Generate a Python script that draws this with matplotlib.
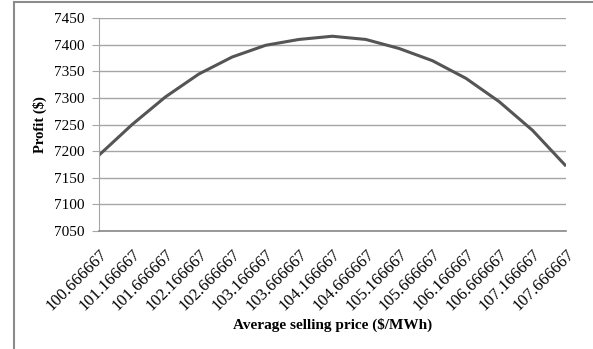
import matplotlib.pyplot as plt
from matplotlib.lines import Line2D

prices = ['100.666667', '101.166667', '101.666667', '102.166667', '102.666667',
          '103.166667', '103.666667', '104.166667', '104.666667', '105.166667',
          '105.666667', '106.166667', '106.666667', '107.166667', '107.666667']
profit = [7192, 7250, 7302, 7345, 7377, 7399, 7410, 7416, 7410, 7393,
          7370, 7337, 7293, 7239, 7172]
yticks = [7050, 7100, 7150, 7200, 7250, 7300, 7350, 7400, 7450]

plt.rcParams['font.family'] = ['Liberation Serif', 'DejaVu Serif']

fig = plt.figure(figsize=(5.93, 3.49), dpi=100)
ax = fig.add_axes([0.1664, 0.338, 0.7881, 0.610])

x = list(range(len(prices)))
ax.plot(x, profit, color='#555555', lw=2.2, solid_capstyle='butt')
ax.set_xlim(0, len(prices) - 1)
ax.set_ylim(7050, 7450)
ax.set_yticks(yticks)
ax.set_xticks(x)
ax.set_xticklabels(prices, rotation=45, ha='right', rotation_mode='anchor')
ax.tick_params(axis='x', length=0, pad=11, labelsize=12)
ax.tick_params(axis='y', length=5, color='#a6a6a6', pad=5, labelsize=11)
ax.grid(axis='y', color='#a6a6a6', lw=1)
ax.set_axisbelow(True)
for s in ['top', 'right']:
    ax.spines[s].set_visible(False)
ax.spines['left'].set_color('#a6a6a6')
ax.spines['bottom'].set_color('#888888')
ax.spines['bottom'].set_linewidth(1.2)

ax.set_ylabel('Profit ($)', fontsize=10.5, fontweight='bold')
ax.set_xlabel('Average selling price ($/MWh)', fontsize=11, fontweight='bold')
ax.yaxis.set_label_coords(-0.111, 0.5)
ax.xaxis.set_label_coords(0.5, -0.408)

# outer chart frame (left and top edges visible)
fig.add_artist(Line2D([14 / 593, 14 / 593], [0, 1 - 2 / 349], color='#8c8c8c', lw=1.5, transform=fig.transFigure))
fig.add_artist(Line2D([14 / 593, 1], [1 - 2 / 349, 1 - 2 / 349], color='#8c8c8c', lw=1.5, transform=fig.transFigure))

fig.savefig('out.png', dpi=100)
